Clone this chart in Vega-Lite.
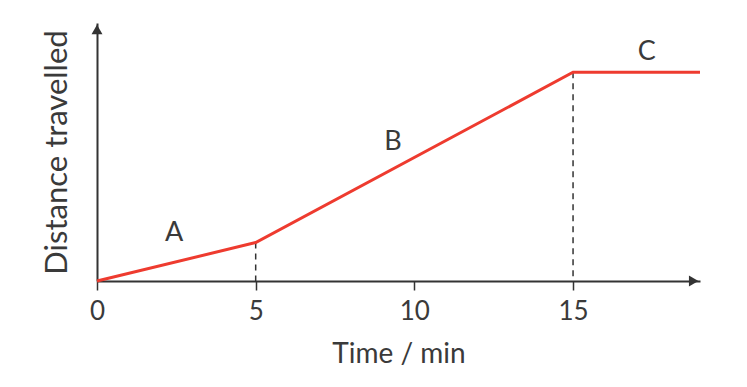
{
  "$schema": "https://vega.github.io/schema/vega-lite/v6.json",
  "autosize": "none",
  "width": 603,
  "height": 258,
  "padding": {"left": 97, "top": 23, "right": 47, "bottom": 106},
  "background": "white",
  "config": {
    "view": {"stroke": null},
    "font": "Lato",
    "axis": {"grid": false}
  },
  "datasets": {
    "path": [
      {"time": 0, "dist": 0},
      {"time": 5, "dist": 14.9},
      {"time": 15, "dist": 80.9},
      {"time": 19, "dist": 80.9}
    ],
    "guides": [
      {"time": 5, "dist": 14.9},
      {"time": 15, "dist": 80.9}
    ],
    "labels": [
      {"time": 2.43, "dist": 18.5, "label": "A"},
      {"time": 9.33, "dist": 53.8, "label": "B"},
      {"time": 17.32, "dist": 88.9, "label": "C"}
    ],
    "arrows": [
      {"time": 18.8, "dist": 0, "shape": "triangle-right"},
      {"time": 0, "dist": 97.5, "shape": "triangle-up"}
    ]
  },
  "encoding": {
    "x": {
      "field": "time", "type": "quantitative",
      "scale": {"domain": [0, 19], "nice": false, "zero": false},
      "axis": {
        "values": [0, 5, 10, 15],
        "labelFlush": false,
        "title": "Time / min",
        "titleFont": "Lato", "titleFontSize": 28, "titleFontWeight": "normal", "titleColor": "#3a3a3a",
        "titlePadding": 16,
        "labelFont": "Lato", "labelFontSize": 26, "labelColor": "#3a3a3a", "labelPadding": 8,
        "domainColor": "#333333", "domainWidth": 2,
        "tickColor": "#333333", "tickWidth": 1.5, "tickSize": 9
      }
    },
    "y": {
      "field": "dist", "type": "quantitative",
      "scale": {"domain": [0, 100], "nice": false},
      "axis": {
        "values": [],
        "ticks": false, "labels": false,
        "title": "Distance travelled",
        "titleFont": "Lato", "titleFontSize": 31, "titleFontWeight": "normal", "titleColor": "#3a3a3a",
        "titlePadding": 24,
        "domainColor": "#333333", "domainWidth": 2
      }
    }
  },
  "layer": [
    {
      "data": {"name": "guides"},
      "mark": {"type": "rule", "strokeDash": [6, 5], "strokeWidth": 1.5, "color": "#333333"},
      "encoding": {"y2": {"datum": 0}}
    },
    {
      "data": {"name": "path"},
      "mark": {"type": "line", "color": "#ee3b2f", "strokeWidth": 3},
      "encoding": {}
    },
    {
      "data": {"name": "labels"},
      "mark": {"type": "text", "font": "Lato", "fontSize": 27, "color": "#3a3a3a", "baseline": "middle", "align": "center"},
      "encoding": {"text": {"field": "label"}}
    },
    {
      "data": {"name": "arrows"},
      "mark": {"type": "point", "filled": true, "size": 120, "color": "#333333", "opacity": 1},
      "encoding": {"shape": {"field": "shape", "type": "nominal", "scale": null, "legend": null}}
    }
  ]
}
